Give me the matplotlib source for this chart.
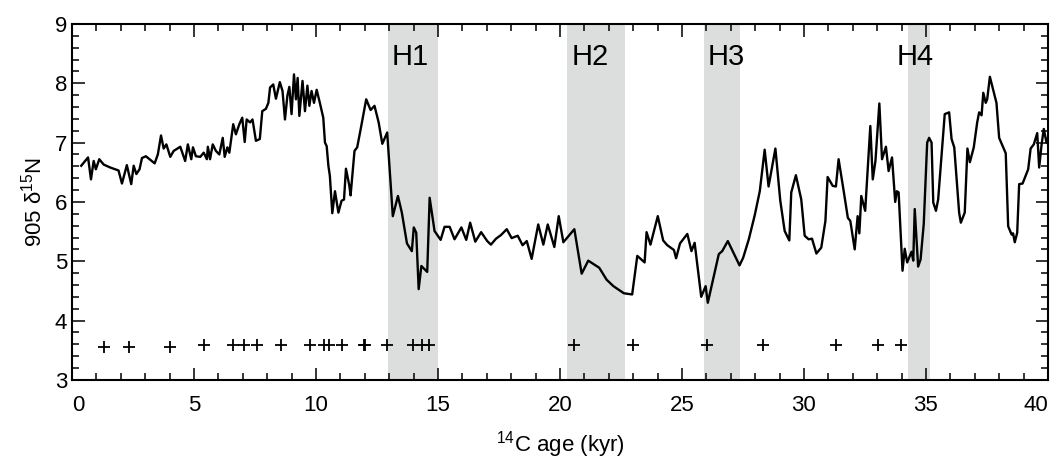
import matplotlib
matplotlib.use("Agg")
import matplotlib.pyplot as plt
from matplotlib.ticker import MultipleLocator

plt.rcParams['font.family'] = ['Liberation Sans', 'DejaVu Sans']
plt.rcParams['mathtext.fontset'] = 'custom'
plt.rcParams['mathtext.rm'] = 'Liberation Sans'
plt.rcParams['mathtext.default'] = 'regular'

# d15N record (age in kyr, permil)
age = [0.38, 0.66, 0.78, 0.89, 0.98, 1.12, 1.30, 1.57, 1.91, 2.05, 2.25, 2.43, 2.53, 2.64,
       2.77, 2.87, 3.03, 3.39, 3.52, 3.65, 3.76, 3.87, 4.03, 4.17, 4.44, 4.64, 4.75, 4.89,
       4.96, 5.08, 5.26, 5.40, 5.53, 5.57, 5.66, 5.77, 5.90, 6.04, 6.18, 6.26, 6.37, 6.45,
       6.61, 6.72, 6.86, 6.98, 7.08, 7.16, 7.30, 7.40, 7.54, 7.70, 7.80, 7.95, 8.05, 8.12,
       8.25, 8.36, 8.52, 8.63, 8.73, 8.83, 8.91, 9.00, 9.10, 9.18, 9.25, 9.32, 9.45, 9.55,
       9.65, 9.73, 9.82, 9.92, 10.03, 10.16, 10.30, 10.37, 10.44, 10.51, 10.57, 10.67, 10.78,
       10.92, 11.05, 11.15, 11.23, 11.37, 11.42, 11.58, 11.69, 11.83, 12.06, 12.24, 12.40,
       12.57, 12.72, 12.92, 13.15, 13.36, 13.52, 13.73, 13.93, 14.01, 14.11, 14.21, 14.32,
       14.56, 14.66, 14.86, 15.11, 15.27, 15.48, 15.68, 15.96, 16.16, 16.32, 16.53, 16.77,
       17.02, 17.17, 17.38, 17.58, 17.82, 18.02, 18.27, 18.47, 18.64, 18.84, 19.11, 19.32,
       19.50, 19.77, 19.95, 20.14, 20.59, 20.89, 21.16, 21.61, 21.91, 22.19, 22.62, 22.96,
       23.17, 23.47, 23.55, 23.71, 24.01, 24.23, 24.40, 24.67, 24.76, 24.92, 25.22, 25.39,
       25.52, 25.79, 25.97, 26.06, 26.51, 26.65, 26.88, 27.36, 27.51, 27.74, 27.98, 28.19,
       28.39, 28.55, 28.83, 29.03, 29.21, 29.40, 29.48, 29.67, 29.89, 30.03, 30.19, 30.33,
       30.51, 30.71, 30.88, 30.97, 31.18, 31.31, 31.42, 31.63, 31.80, 31.90, 32.08, 32.20,
       32.27, 32.35, 32.51, 32.72, 32.82, 32.93, 33.09, 33.20, 33.36, 33.47, 33.61, 33.74,
       33.81, 33.88, 34.04, 34.13, 34.23, 34.41, 34.48, 34.54, 34.68, 34.78, 34.91, 35.05,
       35.13, 35.23, 35.30, 35.41, 35.50, 35.77, 35.95, 36.05, 36.16, 36.36, 36.43, 36.59,
       36.70, 36.80, 36.96, 37.10, 37.18, 37.28, 37.35, 37.45, 37.51, 37.62, 37.89, 38.00,
       38.27, 38.37, 38.51, 38.57, 38.64, 38.74, 38.82, 38.96, 39.19, 39.29, 39.42, 39.56,
       39.64, 39.74, 39.83, 39.94, 40.05]
d15n = [6.61, 6.75, 6.38, 6.69, 6.55, 6.72, 6.63, 6.58, 6.53, 6.31, 6.62, 6.30, 6.61, 6.47,
        6.55, 6.74, 6.77, 6.65, 6.80, 7.12, 6.90, 6.97, 6.76, 6.86, 6.93, 6.69, 6.97, 6.72,
        6.92, 6.77, 6.76, 6.83, 6.72, 6.93, 6.72, 6.97, 6.86, 6.80, 7.08, 6.76, 6.92, 6.83,
        7.31, 7.14, 7.31, 7.42, 7.01, 7.39, 7.34, 7.39, 7.03, 7.06, 7.53, 7.57, 7.67, 7.93,
        7.98, 7.74, 8.02, 7.87, 7.39, 7.79, 7.94, 7.48, 8.15, 7.73, 8.09, 7.45, 8.04, 7.53,
        7.96, 7.62, 7.87, 7.67, 7.89, 7.67, 7.42, 7.00, 6.94, 6.61, 6.44, 5.81, 6.18,
        5.82, 6.02, 6.04, 6.56, 6.27, 6.11, 6.86, 6.92, 7.22, 7.73, 7.55, 7.62,
        7.34, 6.98, 7.17, 5.76, 6.10, 5.82, 5.30, 5.17, 5.57, 5.48, 4.53, 4.92,
        4.82, 6.07, 5.51, 5.36, 5.58, 5.58, 5.37, 5.57, 5.36, 5.65, 5.33, 5.49,
        5.34, 5.28, 5.38, 5.44, 5.54, 5.39, 5.43, 5.27, 5.34, 5.04, 5.62, 5.28,
        5.62, 5.24, 5.76, 5.32, 5.54, 4.79, 5.01, 4.89, 4.69, 4.58, 4.46, 4.44,
        5.09, 4.98, 5.49, 5.28, 5.76, 5.35, 5.27, 5.19, 5.05, 5.30, 5.46, 5.17,
        5.31, 4.40, 4.58, 4.30, 5.12, 5.17, 5.34, 4.93, 5.06, 5.37, 5.77, 6.18,
        6.88, 6.26, 6.90, 6.02, 5.51, 5.35, 6.16, 6.45, 6.04, 5.43, 5.37, 5.38,
        5.13, 5.23, 5.68, 6.42, 6.27, 6.26, 6.72, 6.18, 5.73, 5.68, 5.20, 5.76,
        5.47, 6.10, 5.85, 7.28, 6.38, 6.69, 7.66, 6.72, 6.93, 6.52, 6.75, 6.00,
        6.18, 6.16, 4.84, 5.21, 4.98, 5.16, 5.01, 5.88, 4.91, 5.03, 5.63, 7.00,
        7.08, 7.00, 5.99, 5.85, 6.04, 7.48, 7.51, 7.06, 6.92, 5.82, 5.65, 5.82,
        6.90, 6.67, 6.92, 7.34, 7.51, 7.46, 7.84, 7.67, 7.73, 8.11, 7.67, 7.08,
        6.82, 5.59, 5.45, 5.47, 5.32, 5.48, 6.30, 6.31, 6.55, 6.90, 6.97, 7.16,
        6.58, 6.97, 7.23, 7.00, 7.15]

# radiocarbon date control points
date_age = [1.33, 2.35, 4.03, 5.41, 6.60, 7.07, 7.57, 8.56, 9.75, 10.33, 10.52, 11.05,
            11.97, 12.03, 12.90, 13.98, 14.34, 14.64, 20.58, 22.98, 26.02, 28.34, 31.30,
            33.04, 33.98]
date_y = [3.55, 3.55, 3.55, 3.58, 3.58, 3.58, 3.58, 3.58, 3.58, 3.58, 3.58, 3.58,
          3.58, 3.58, 3.58, 3.58, 3.58, 3.58, 3.58, 3.58, 3.58, 3.58, 3.58,
          3.58, 3.58]

# Heinrich events
h_names = ['H1', 'H2', 'H3', 'H4']
h_start = [12.95, 20.29, 25.9, 34.26]
h_end = [15.0, 22.66, 27.38, 35.16]
h_label_x = [13.85, 21.23, 26.8, 34.55]

x_ticks = [0, 5, 10, 15, 20, 25, 30, 35, 40]

fig, ax = plt.subplots(figsize=(10.58, 4.61), dpi=100)
fig.subplots_adjust(left=0.068, right=0.9905, top=0.948, bottom=0.176)

for name, s, e, lx in zip(h_names, h_start, h_end, h_label_x):
    ax.axvspan(s, e, color='#dcdddd', lw=0, zorder=0)
    ax.text(lx, 8.44, name, fontsize=21, ha='center', va='center')

ax.plot(age, d15n, color='black', lw=1.7, zorder=3)
ax.plot(date_age, date_y, ls='none', marker='+', ms=9, mew=1.3, color='black')

ax.set_xlim(0, 40)
ax.set_ylim(3, 9)
ax.set_xticks(x_ticks)
ax.xaxis.set_minor_locator(MultipleLocator(1))
ax.yaxis.set_major_locator(MultipleLocator(1))
ax.yaxis.set_minor_locator(MultipleLocator(0.2))
ax.tick_params(which='both', direction='in', top=True, right=True, labelsize=16)
ax.tick_params(which='major', length=9, width=1.1)
ax.tick_params(which='minor', length=5, width=1.1)
ax.tick_params(axis='x', which='major', pad=11)
for sp in ax.spines.values():
    sp.set_linewidth(1.5)

# keep the end labels inside the frame, as in the original
for lab in ax.get_xticklabels():
    if lab.get_text() == '0':
        lab.set_horizontalalignment('left')
    elif lab.get_text() == '40':
        lab.set_horizontalalignment('right')

ax.set_xlabel('$^{14}$C age (kyr)', fontsize=16, labelpad=9)
ax.set_ylabel('905 δ$^{15}$N', fontsize=16, labelpad=6)

fig.savefig('out.png', dpi=100)
